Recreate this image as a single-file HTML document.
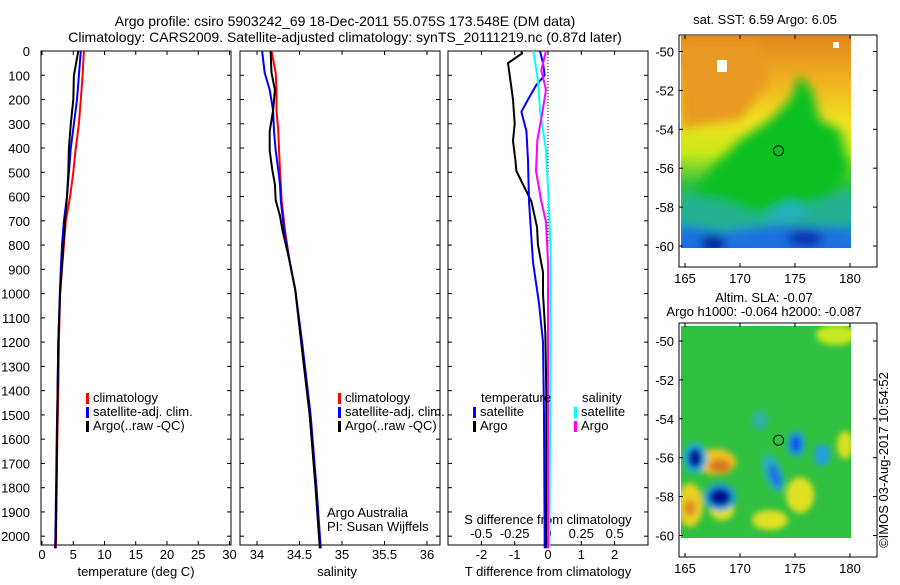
<!DOCTYPE html>
<html><head><meta charset="utf-8"><style>
body{margin:0;background:#fff}
svg{font-family:"Liberation Sans",sans-serif;font-size:13px}
</style></head><body>
<svg id="fig" width="900" height="580" xmlns="http://www.w3.org/2000/svg">
<defs>
<filter id="bl" x="-20%" y="-20%" width="140%" height="140%"><feGaussianBlur stdDeviation="5"/></filter>
<filter id="bl2" x="-50%" y="-50%" width="200%" height="200%"><feGaussianBlur stdDeviation="3"/></filter>
<linearGradient id="sstg" x1="0" y1="0" x2="0" y2="1">
<stop offset="0" stop-color="#e0861c"/><stop offset="0.2" stop-color="#f0b020"/><stop offset="0.4" stop-color="#f0e020"/><stop offset="0.55" stop-color="#c8e818"/><stop offset="0.7" stop-color="#30c040"/><stop offset="0.85" stop-color="#20b0a0"/><stop offset="1" stop-color="#1070e0"/></linearGradient>
<clipPath id="c1"><rect x="681" y="36" width="170" height="212"/></clipPath>
<clipPath id="c2"><rect x="681" y="326" width="170" height="212"/></clipPath>
</defs>
<text x="345" y="26" text-anchor="middle" font-size="14">Argo profile: csiro 5903242_69 18-Dec-2011 55.075S 173.548E (DM data)</text>
<text x="345" y="42" text-anchor="middle" font-size="14">Climatology: CARS2009. Satellite-adjusted climatology: synTS_20111219.nc (0.87d later)</text>
<g id="plots"></g>
<!-- SST map -->
<g>
<rect x="679" y="35" width="198" height="232" fill="#fff" stroke="#000"/>
<g clip-path="url(#c1)">
<rect x="681" y="36" width="170" height="212" fill="url(#sstg)"/>
<g filter="url(#bl)">
<path d="M681 40 L760 40 L770 80 L740 120 L700 125 L681 130 Z" fill="#e89a20"/>
<path d="M740 140 L770 120 L790 100 L800 75 L812 90 L820 120 L840 130 L850 170 L830 200 L780 215 L720 215 L690 200 L710 170 Z" fill="#10c020"/>
<path d="M681 195 L720 200 L760 215 L820 200 L851 190 L851 248 L681 248 Z" fill="#20b090"/>
<path d="M681 225 L720 232 L780 225 L851 228 L851 248 L681 248 Z" fill="#1a70e0"/>
<ellipse cx="713" cy="243" rx="12" ry="8" fill="#001a90"/>
<ellipse cx="805" cy="238" rx="18" ry="9" fill="#0830b0"/>
<path d="M760 215 L790 200 L810 210 L790 222 Z" fill="#20b0c0"/>
</g>
<path d="M717 60 h10 v12 h-10 Z" fill="#fff"/><path d="M833 42 h6 v6 h-6 Z" fill="#fff"/>
<circle cx="778.5" cy="150.7" r="5" fill="none" stroke="#000"/>
</g>
<text x="765" y="24" text-anchor="middle">sat. SST: 6.59 Argo: 6.05</text>
<g id="m1ax"></g>
</g>
<!-- SLA map -->
<g>
<rect x="679" y="323" width="198" height="234" fill="#fff" stroke="#000"/>
<g clip-path="url(#c2)">
<rect x="681" y="326" width="170" height="212" fill="#30c040"/>
<g filter="url(#bl2)">
<ellipse cx="836" cy="335" rx="20" ry="10" fill="#c8e820"/>
<ellipse cx="722" cy="510" rx="12" ry="10" fill="#e8e020"/>
<ellipse cx="690" cy="505" rx="13" ry="22" fill="#e8d020"/>
<ellipse cx="690" cy="508" rx="6" ry="8" fill="#e08a20"/>
<ellipse cx="716" cy="462" rx="20" ry="13" fill="#f0c020"/>
<ellipse cx="720" cy="466" rx="11" ry="7" fill="#d87a20"/>
<ellipse cx="695" cy="458" rx="12" ry="15" fill="#20b0e0"/>
<ellipse cx="695" cy="458" rx="7" ry="10" fill="#001090"/>
<ellipse cx="720" cy="497" rx="16" ry="14" fill="#20a0e0"/>
<ellipse cx="720" cy="497" rx="11" ry="9" fill="#001090"/>
<ellipse cx="773" cy="473" rx="9" ry="20" fill="#20b0c0" transform="rotate(-20 773 473)"/>
<ellipse cx="775" cy="476" rx="5" ry="12" fill="#2070e0" transform="rotate(-20 775 476)"/>
<ellipse cx="796" cy="444" rx="9" ry="13" fill="#20a0e0"/>
<ellipse cx="796" cy="444" rx="5" ry="8" fill="#1050e0"/>
<ellipse cx="822" cy="455" rx="8" ry="11" fill="#20a0e0"/>
<ellipse cx="800" cy="495" rx="14" ry="18" fill="#e0e020"/>
<ellipse cx="770" cy="520" rx="18" ry="10" fill="#e0e020"/>
<ellipse cx="845" cy="445" rx="8" ry="14" fill="#d8e020"/>
<ellipse cx="760" cy="420" rx="8" ry="10" fill="#30b0a0"/>
</g>
<circle cx="778.5" cy="440.2" r="5" fill="none" stroke="#000"/>
</g>
<text x="764" y="302" text-anchor="middle">Altim. SLA: -0.07</text>
<text x="764" y="316" text-anchor="middle">Argo h1000: -0.064 h2000: -0.087</text>
<g id="m2ax"></g>
</g>
<text x="888" y="460" text-anchor="middle" transform="rotate(-90 888 460)">©IMOS 03-Aug-2017 10:54:52</text>
</svg>
<script>
// ---- data ----
const depthTicks=[0,100,200,300,400,500,600,700,800,900,1000,1100,1200,1300,1400,1500,1600,1700,1800,1900,2000];
const tDepth=[0,100,200,300,400,500,600,700,800,900,1000,1200,1400,1600,1800,2000,2050];
const tClim=[6.7,6.5,6.2,5.9,5.4,5.0,4.5,3.8,3.5,3.2,2.9,2.7,2.6,2.45,2.35,2.25,2.2];
const tSat=[6.2,5.9,5.6,5.1,4.6,4.3,4.0,3.5,3.2,3.0,2.85,2.6,2.5,2.35,2.25,2.15,2.1];
const tArgo=[5.8,5.1,5.0,4.6,4.3,4.2,4.0,3.7,3.4,3.15,2.9,2.6,2.5,2.4,2.3,2.2,2.15];
const sDepth=[0,90,160,245,330,410,490,550,615,680,740,860,985,1200,1500,1800,2000,2050];
const sClim=[34.17,34.22,34.23,34.23,34.25,34.26,34.27,34.28,34.29,34.31,34.33,34.38,34.45,34.52,34.62,34.69,34.73,34.74];
const sSat=[34.06,34.09,34.15,34.19,34.2,34.22,34.25,34.27,34.28,34.3,34.32,34.38,34.45,34.53,34.63,34.7,34.74,34.75];
const sArgo=[34.16,34.17,34.21,34.19,34.15,34.15,34.18,34.21,34.22,34.27,34.3,34.38,34.45,34.52,34.62,34.69,34.73,34.74];
const dTArgoDepth=[0,10,50,100,200,300,370,450,495,550,620,725,800,912,1000,1160,1400,1700,2050];
const dTArgo=[-0.8,-0.78,-1.2,-1.15,-1.05,-1.0,-1.05,-0.98,-0.95,-0.75,-0.5,-0.33,-0.3,-0.15,-0.15,-0.08,-0.05,-0.05,-0.05];
const dTSatDepth=[0,50,100,140,200,250,330,450,620,870,1040,1200,1500,2050];
const dTSat=[-0.24,-0.15,-0.1,-0.35,-0.6,-0.8,-0.65,-0.6,-0.57,-0.45,-0.27,-0.15,-0.12,-0.1];
const dSSatDepth=[0,120,245,410,620,830,1200,2050];
const dSSat=[-0.11,-0.075,-0.06,-0.015,0.005,0.02,0.02,0.01];
const dSArgoDepth=[0,80,160,245,370,495,620,705,870,2050];
const dSArgo=[-0.015,-0.05,-0.015,-0.04,-0.08,-0.09,-0.05,-0.015,0,0];
const tTicks=[0,5,10,15,20,25,30];
const sTicks=[34,34.5,35,35.5,36];
const sTickLabels=["34","34.5","35","35.5","36"];
const dtTicks=[-2,-1,0,1,2];
const dsTicks=[-0.5,-0.25,0,0.25,0.5];
const dsTickLabels=["-0.5","-0.25","0","0.25","0.5"];
const lonTicks=[165,170,175,180];
const latTicks=[-50,-52,-54,-56,-58,-60];
// ---- drawing ----
const NS="http://www.w3.org/2000/svg";
const g=document.getElementById('plots');
function mk(tag,at,parent){const e=document.createElementNS(NS,tag);for(const k in at)e.setAttribute(k,at[k]);(parent||g).appendChild(e);return e;}
const yD=d=>51+d*0.2426;
const PB=545;
const xT=v=>42+v*6.25;
const xS=v=>257+(v-34)*85;
const xDT=v=>548+v*33.3;
const xDS=v=>548+v*133.3;
function panel(x0,x1,name){
  const r=mk('rect',{x:x0,y:51,width:x1-x0,height:PB-51,fill:'none',stroke:'#000'});
  
  
  depthTicks.forEach(d=>{mk('line',{x1:x0,x2:x0+4,y1:yD(d),y2:yD(d),stroke:'#000'});mk('line',{x1:x1,x2:x1-4,y1:yD(d),y2:yD(d),stroke:'#000'});});
}
function line(xs,ds,xf,col,name,w){
  const p=xs.map((v,i)=>xf(v).toFixed(1)+','+yD(ds[i]).toFixed(1)).join(' ');
  const e=mk('polyline',{points:p,fill:'none',stroke:col,'stroke-width':w||2});
  
  
}
function txt(x,y,s,anchor,name){const e=mk('text',{x:x,y:y,'text-anchor':anchor||'start'});e.textContent=s;return e;}
function legend(x,y,col,label,name){mk('rect',{x:x,y:y-9,width:3,height:11,fill:col});txt(x+7,y,label,'start',name);}
// panel 1
panel(41,231,'temperature-panel');
depthTicks.forEach(d=>txt(30,yD(d)+5,String(d),'end','depth-tick-label'));
tTicks.forEach(v=>{mk('line',{x1:xT(v),x2:xT(v),y1:PB,y2:PB-4,stroke:'#000'});mk('line',{x1:xT(v),x2:xT(v),y1:51,y2:55,stroke:'#000'});txt(xT(v),559,String(v),'middle','temperature-tick-label');});
txt(136,576,'temperature (deg C)','middle','temperature-axis-title');
line(tClim,tDepth,xT,'#f00','temp-climatology-line');
line(tSat,tDepth,xT,'#00f','temp-satellite-line');
line(tArgo,tDepth,xT,'#000','temp-argo-line');
legend(86,402,'#f00','climatology','legend-climatology');
legend(86,416,'#00f','satellite-adj. clim.','legend-satellite');
legend(86,430,'#000','Argo(..raw -QC)','legend-argo');
// panel 2
panel(240,440,'salinity-panel');
sTicks.forEach((v,i)=>{mk('line',{x1:xS(v),x2:xS(v),y1:PB,y2:PB-4,stroke:'#000'});mk('line',{x1:xS(v),x2:xS(v),y1:51,y2:55,stroke:'#000'});txt(xS(v),559,sTickLabels[i],'middle','salinity-tick-label');});
txt(337,576,'salinity','middle','salinity-axis-title');
line(sClim,sDepth,xS,'#f00','sal-climatology-line');
line(sSat,sDepth,xS,'#00f','sal-satellite-line');
line(sArgo,sDepth,xS,'#000','sal-argo-line');
legend(338,402,'#f00','climatology','legend-climatology-2');
legend(338,416,'#00f','satellite-adj. clim.','legend-satellite-2');
legend(338,430,'#000','Argo(..raw -QC)','legend-argo-2');
txt(327,517,'Argo Australia','start','credit-argo-australia');
txt(327,531,'PI: Susan Wijffels','start','credit-pi');
// panel 3
panel(448,648,'difference-panel');
mk('line',{x1:548,x2:548,y1:51,y2:PB,stroke:'#000','stroke-dasharray':'1,2'});
dtTicks.forEach(v=>{mk('line',{x1:xDT(v),x2:xDT(v),y1:PB,y2:PB-4,stroke:'#000'});mk('line',{x1:xDT(v),x2:xDT(v),y1:51,y2:55,stroke:'#000'});txt(xDT(v),559,String(v),'middle','t-diff-tick-label');});
txt(548,576,'T difference from climatology','middle','t-diff-axis-title');
dsTicks.forEach((v,i)=>txt(xDS(v),538,dsTickLabels[i],'middle','s-diff-tick-label'));
txt(548,524,'S difference from climatology','middle','s-diff-axis-title');
line(dTArgo,dTArgoDepth,xDT,'#000','tdiff-argo-line');
line(dTSat,dTSatDepth,xDT,'#00f','tdiff-satellite-line');
line(dSSat,dSSatDepth,xDS,'#0ff','sdiff-satellite-line');
line(dSArgo,dSArgoDepth,xDS,'#f0f','sdiff-argo-line');
txt(481,402,'temperature','start','legend-temperature-header');
legend(473,416,'#00f','satellite','legend-t-satellite');
legend(473,430,'#000','Argo','legend-t-argo');
txt(582,402,'salinity','start','legend-salinity-header');
legend(574,416,'#0ff','satellite','legend-s-satellite');
legend(574,430,'#f0f','Argo','legend-s-argo');
// map axes
function mapAx(id,y0,y1,latY){
  const a=document.getElementById(id);
  lonTicks.forEach(l=>{const x=685+(l-165)*11;mk('line',{x1:x,x2:x,y1:y1,y2:y1-4,stroke:'#000'},a);mk('line',{x1:x,x2:x,y1:y0,y2:y0+4,stroke:'#000'},a);
    const t=mk('text',{x:x,y:y1+16,'text-anchor':'middle'},a);t.textContent=String(l);});
  latTicks.forEach(la=>{const y=latY(la);mk('line',{x1:679,x2:683,y1:y,y2:y,stroke:'#000'},a);mk('line',{x1:877,x2:873,y1:y,y2:y,stroke:'#000'},a);
    const t=mk('text',{x:674,y:y+5,'text-anchor':'end'},a);t.textContent=String(la);});
}
mapAx('m1ax',35,267,la=>51.5+(-50-la)*19.45);
mapAx('m2ax',323,557,la=>341+(-50-la)*19.45);
</script>
</body></html>
